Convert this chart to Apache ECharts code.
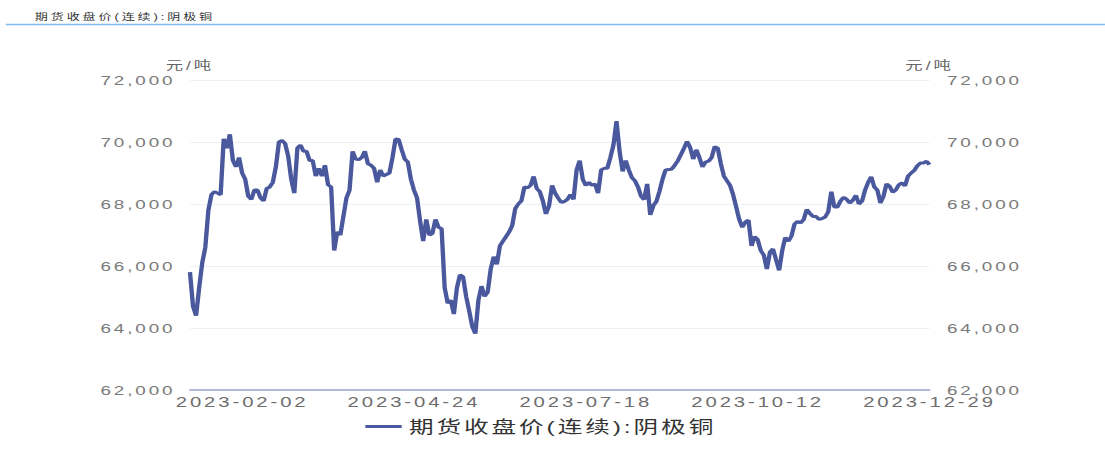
<!DOCTYPE html>
<html>
<head>
<meta charset="utf-8">
<script src="https://cdn.jsdelivr.net/npm/echarts@6.0.0/dist/echarts.min.js"></script>
<style>
html, body { margin: 0; padding: 0; background: #fff; overflow: hidden; }
/* the reference is drawn wide: render narrow and stretch it sideways */
#main { width: 762px; height: 463px; transform: scaleX(1.4501); transform-origin: 0 0; letter-spacing: 2px; }
</style>
</head>
<body>
<div id="main"></div>
<script>
var seriesName = '期货收盘价(连续):阴极铜';
var unitName = '元/吨';

// SHFE closed days in 2023 (weekdays only)
var holidays = [
    '2023-01-02', '2023-01-23', '2023-01-24', '2023-01-25', '2023-01-26', '2023-01-27',
    '2023-04-05', '2023-05-01', '2023-05-02', '2023-05-03', '2023-06-22', '2023-06-23',
    '2023-09-29', '2023-10-02', '2023-10-03', '2023-10-04', '2023-10-05', '2023-10-06'
];

var tickLabels = ['2023-02-02', '2023-04-24', '2023-07-18', '2023-10-12', '2023-12-29'];

// closing price, one per trading day (242)
var prices = [
    65800, 64700, 64400, 65300, 66100, 66600, 67800, 68300, 68400, 68350,
    68300, 70100, 69800, 70250, 69400, 69200, 69500, 69000, 68800, 68250,
    68150, 68450, 68450, 68200, 68100, 68500, 68550, 68700, 69200, 70000,
    70050, 69950, 69550, 68800, 68350, 69800, 69900, 69700, 69700, 69400,
    69400, 68900, 69150, 68900, 69250, 68620, 68550, 66500, 67100, 67000,
    67600, 68200, 68450, 69700, 69450, 69430, 69500, 69700, 69300, 69250,
    69150, 68700, 69100, 68900, 68950, 69000, 69500, 70100, 70080, 69750,
    69450, 69350, 68800, 68450, 68200, 67450, 66800, 67500, 67000, 67050,
    67500, 67250, 67200, 65300, 64800, 64900, 64450, 65300, 65720, 65650,
    65020, 64550, 64050, 63820, 64900, 65350, 65020, 65150, 65900, 66300,
    66050, 66650, 66800, 66950, 67100, 67300, 67850, 68000, 68100, 68550,
    68520, 68600, 68890, 68500, 68400, 68100, 67680, 67930, 68600, 68350,
    68190, 68050, 68080, 68150, 68300, 68150, 69100, 69400, 68800, 68600,
    68700, 68600, 68650, 68350, 69100, 69150, 69150, 69500, 69900, 70670,
    69700, 69050, 69400, 69100, 68850, 68750, 68550, 68250, 68140, 68650,
    67650, 67950, 68080, 68410, 68800, 69100, 69110, 69130, 69250, 69400,
    69600, 69800, 70020, 69820, 69450, 69750, 69500, 69200, 69350, 69380,
    69500, 69850, 69800, 69300, 68900, 68750, 68600, 68300, 67900, 67500,
    67250, 67420, 67480, 66650, 66950, 66850, 66500, 66350, 65900, 66450,
    66550, 66200, 65860, 66500, 66920, 66800, 66960, 67350, 67440, 67390,
    67500, 67820, 67700, 67600, 67600, 67500, 67530, 67580, 67750, 68400,
    67900, 67900, 68100, 68220, 68150, 68030, 68120, 68280, 68000, 68090,
    68450, 68700, 68880, 68550, 68450, 68030, 68250, 68650, 68570, 68380,
    68450, 68620, 68680, 68580, 68900, 69000, 69080, 69230, 69320, 69320,
    69380, 69270
];

var dates = function () {
    var list = [];
    var d = new Date(Date.UTC(2023, 0, 1));
    while (d.getUTCFullYear() === 2023) {
        var s = d.toISOString().slice(0, 10);
        var w = d.getUTCDay();
        if (w !== 0 && w !== 6 && holidays.indexOf(s) < 0) {
            list.push(s);
        }
        d.setUTCDate(d.getUTCDate() + 1);
    }
    return list;
}();

var fontLatin = '"Liberation Sans", "Noto Sans CJK SC", sans-serif';

var valueAxis = function (pos) {
    return {
        type: 'value',
        position: pos,
        min: 62000,
        max: 72000,
        interval: 2000,
        name: unitName,
        nameGap: 8,
        nameTextStyle: { color: '#666', fontSize: 12, fontFamily: fontLatin },
        axisLine: { show: false },
        axisTick: { show: false },
        axisLabel: {
            color: '#7a7a7a',
            fontSize: 13,
            fontFamily: fontLatin,
            margin: pos === 'left' ? 10 : 12,
            formatter: function (v) {
                return v.toLocaleString('en-US');
            }
        },
        splitLine: {
            show: pos === 'left',
            lineStyle: { color: '#eef0f8', width: 1 }
        }
    };
};

var option = {
    animation: false,
    backgroundColor: '#fff',
    title: {
        text: seriesName,
        left: 19,
        top: 7,
        textStyle: { color: '#333', fontSize: 9, fontWeight: 'normal', fontFamily: fontLatin }
    },
    graphic: [
        {
            type: 'line',
            shape: { x1: 4, y1: 24.5, x2: 762, y2: 24.5 },
            style: { stroke: '#7dbdf3', lineWidth: 1.5 }
        }
    ],
    legend: {
        left: 247,
        top: 413,
        icon: 'rect',
        itemWidth: 25,
        itemHeight: 3,
        textStyle: { color: '#333', fontSize: 17, fontFamily: fontLatin },
        data: [seriesName]
    },
    grid: {
        left: 131,
        right: 121,
        top: 80,
        bottom: 73,
        containLabel: false
    },
    xAxis: {
        type: 'category',
        boundaryGap: false,
        data: dates,
        axisLine: { show: true, lineStyle: { color: '#a0a4d0', width: 1.5 } },
        axisTick: { show: false },
        axisLabel: {
            color: '#6e6e6e',
            fontSize: 14,
            fontFamily: fontLatin,
            margin: 5,
            interval: function (index, value) {
                return tickLabels.indexOf(value) >= 0;
            }
        },
        splitLine: { show: false }
    },
    yAxis: [valueAxis('left'), valueAxis('right')],
    series: [
        {
            name: seriesName,
            type: 'line',
            yAxisIndex: 0,
            symbol: 'none',
            data: prices,
            lineStyle: { color: '#4a589e', width: 3 },
            itemStyle: { color: '#4a589e' }
        }
    ]
};

var myChart = echarts.init(document.getElementById('main'), null, { renderer: 'svg' });
myChart.setOption(option);
</script>
</body>
</html>
